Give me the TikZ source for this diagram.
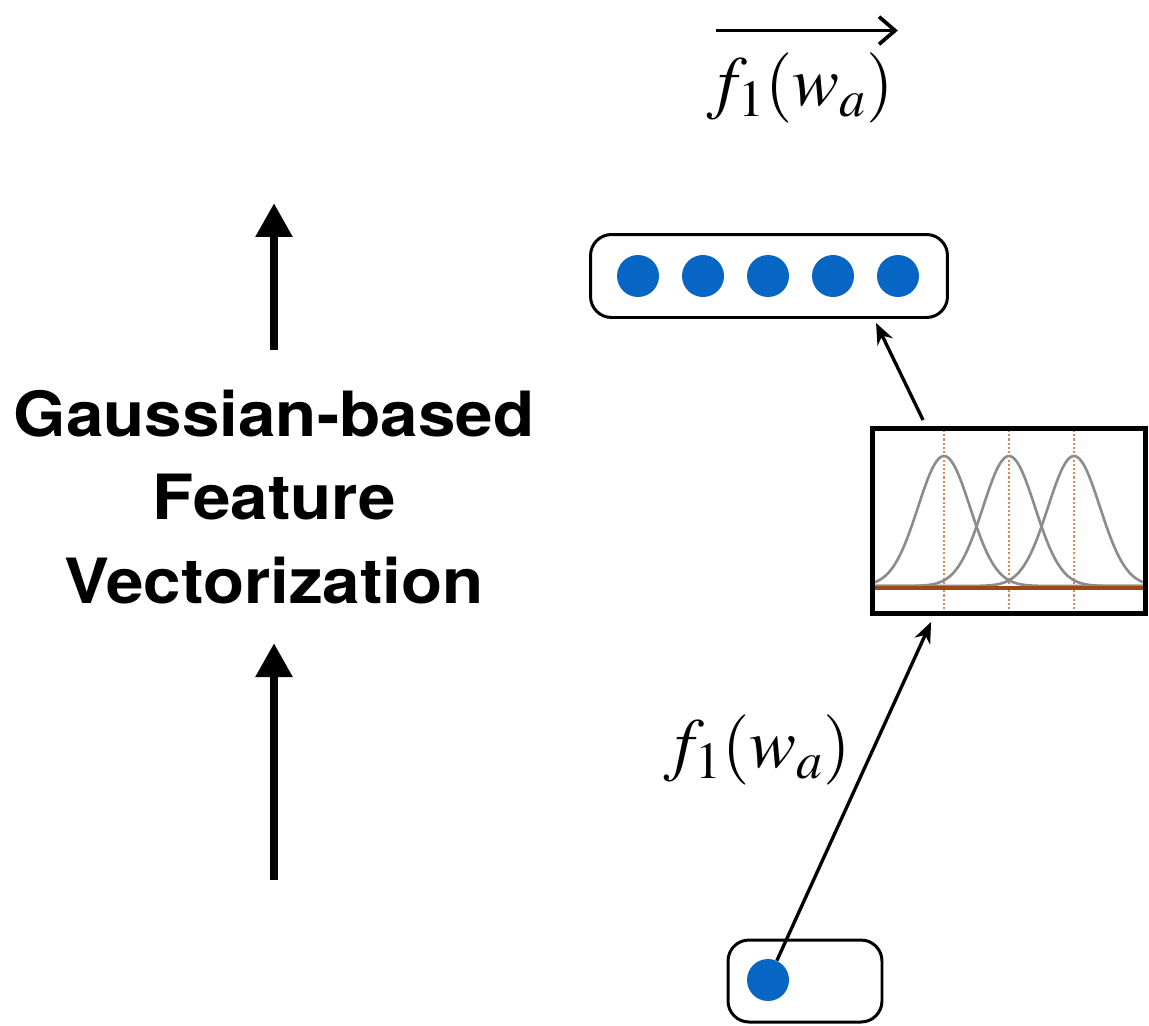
\documentclass[tikz,border=0pt]{standalone}
\usepackage{mathptmx}
\usepackage{fontspec}
\newfontfamily\headfont[FakeStretch=1.08]{TeX Gyre Heros}
\usetikzlibrary{arrows.meta,calc}
\definecolor{dotblue}{HTML}{0766C3}
\definecolor{axisbrown}{HTML}{9A4A12}
\definecolor{gridorange}{HTML}{D9895A}
\definecolor{curvegray}{HTML}{8C8C8C}
\tikzset{
  vecbox/.style={draw, line width=1.7pt, rounded corners=0.42cm, inner sep=0pt},
  kernelbox/.style={draw, line width=2.8pt, inner sep=0pt},
  unit/.style={circle, fill=dotblue, minimum size=0.84cm, inner sep=0pt},
  conn/.style={line width=1.9pt, -{Stealth[length=0.42cm, width=0.34cm]}},
  bigarrow/.style={line width=0.174cm, -{Triangle[length=0.68cm, width=0.7cm]}},
  mathlabel/.style={font=\fontsize{40}{48}\selectfont, inner sep=0pt},
  curve/.style={curvegray, line width=1.5pt},
}
\begin{document}
\begin{tikzpicture}[x=0.02cm, y=-0.02cm]
\useasboundingbox (0,0) rectangle (1149,1025);

% stage title and the two flow arrows
\node[font=\headfont\fontsize{35.5}{47.5}\selectfont\bfseries, align=center, inner sep=0pt]
  (title) at (274,497) {Gaussian-based\\Feature\\Vectorization};
\coordinate (upA) at (274,350);
\coordinate (upAtip) at (274,203);
\coordinate (upB) at (274,880);
\coordinate (upBtip) at (274,643);
\draw[bigarrow] (upA) -- (upAtip);
\draw[bigarrow] (upB) -- (upBtip);

% output vector
\node[vecbox, minimum width=7.14cm, minimum height=1.66cm] (vec) at (769,276) {};
\foreach \i/\x in {1/638,2/703,3/768,4/833,5/898}
  \node[unit] (v\i) at (\x,276) {};

% Gaussian kernel panel
\node[kernelbox, minimum width=5.46cm, minimum height=3.7cm] (gauss) at (1009,521) {};
\begin{scope}
  \clip (gauss.south west) rectangle (gauss.north east);
  \foreach \m in {944,1009,1074}
    \draw[gridorange, line width=0.9pt, dash pattern=on 1.2pt off 1.2pt] (\m,430) -- (\m,612);
  \foreach \m in {944,1009,1074}
    \draw[curve, domain=872:1146, samples=120, smooth]
      plot (\x, {586 - 130*exp(-0.5*((\x-\m)/26)^2)});
  \draw[axisbrown, line width=1.8pt] (872,588) -- (1146,588);
\end{scope}
\node[kernelbox, minimum width=5.46cm, minimum height=3.7cm] at (gauss) {};

% scalar input
\node[vecbox, minimum width=3.08cm, minimum height=1.64cm] (inp) at (805,981) {};
\node[unit] (x0) at (768,980) {};

% connectors
\draw[conn] (x0) -- ($(gauss.south west)+(61,6)$);
\draw[conn] ($(gauss.north west)+(53,-6)$) -- ($(vec.south west)+(287,4)$);

% labels
\node[mathlabel] (lin) at (757,750) {$f_1(w_a)$};
\node[mathlabel] (lout) at (800,88) {$f_1(w_a)$};
\draw[line width=2.1pt, -{Straight Barb[length=0.32cm, width=0.55cm]}]
  ($(lout.north west)+(10,-22)$) -- ($(lout.north east)+(4,-22)$);
\end{tikzpicture}
\end{document}
